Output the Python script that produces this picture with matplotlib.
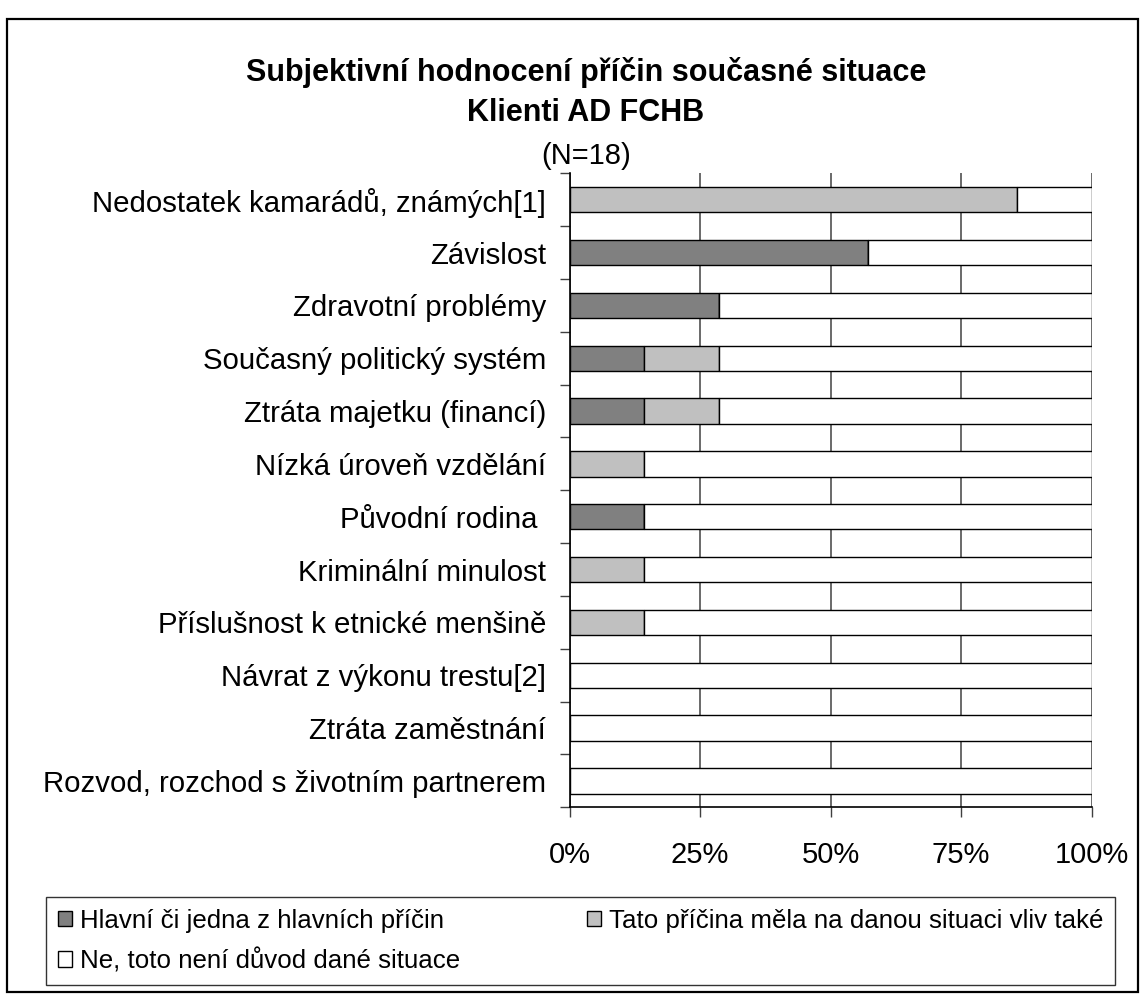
import matplotlib
matplotlib.use("Agg")
import matplotlib.pyplot as plt
import numpy as np
from matplotlib.patches import Rectangle

plt.rcParams['font.family'] = ['Liberation Sans', 'DejaVu Sans']

categories = [
    "Nedostatek kamarádů, známých[1]",
    "Závislost",
    "Zdravotní problémy",
    "Současný politický systém",
    "Ztráta majetku (financí)",
    "Nízká úroveň vzdělání",
    "Původní rodina ",
    "Kriminální minulost",
    "Příslušnost k etnické menšině",
    "Návrat z výkonu trestu[2]",
    "Ztráta zaměstnání",
    "Rozvod, rozchod s životním partnerem",
]
main_cause = [0, 57.1, 28.6, 14.3, 14.3, 0, 14.3, 0, 0, 0, 0, 0]
also_influence = [85.7, 0, 0, 14.3, 14.3, 14.3, 0, 14.3, 14.3, 0, 0, 0]
not_reason = [100 - a - b for a, b in zip(main_cause, also_influence)]

series_names = [
    "Hlavní či jedna z hlavních příčin",
    "Tato příčina měla na danou situaci vliv také",
    "Ne, toto není důvod dané situace",
]
x_ticks = [0, 25, 50, 75, 100]
x_ticklabels = ["0%", "25%", "50%", "75%", "100%"]
title_lines = ["Subjektivní hodnocení příčin současné situace", "Klienti AD FCHB"]
subtitle = "(N=18)"

W, H = 1146, 999
fig = plt.figure(figsize=(W / 100, H / 100), dpi=100)

# outer frame
fig.patches.append(Rectangle((7 / W, 7 / H), 1131 / W, 973 / H, transform=fig.transFigure,
                             fill=False, edgecolor='black', linewidth=1.6))

ax = fig.add_axes([569.5 / W, 1 - 807.3 / H, 522 / W, 634 / H])

y = np.arange(len(categories))
colors = ['#808080', '#C0C0C0', '#FFFFFF']
left = np.zeros(len(categories))
handles = []
for vals, col, name in zip([main_cause, also_influence, not_reason], colors, series_names):
    vals = np.array(vals, dtype=float)
    b = ax.barh(y, vals, left=left, height=0.48, color=col, edgecolor='black',
                linewidth=1.0, label=name, zorder=3)
    handles.append(b)
    left += vals

ax.set_xlim(0, 100)
ax.set_ylim(len(categories) - 0.5, -0.5)
ax.set_xticks(x_ticks)
ax.set_xticklabels(x_ticklabels, fontsize=21)
ax.set_yticks(y)
ax.set_yticklabels(categories, fontsize=21.2)
ax.tick_params(axis='y', which='major', length=0, pad=17)
ax.set_yticks(np.arange(len(categories) + 1) - 0.5, minor=True)
ax.tick_params(axis='y', which='minor', length=7.5, width=1, direction='out', color='#404040')
ax.tick_params(axis='x', which='major', length=7.5, width=1, direction='out', pad=17, color='#404040')
ax.xaxis.grid(True, color='#505050', linewidth=1.2, zorder=0)
ax.set_axisbelow(True)
for s in ['top', 'right']:
    ax.spines[s].set_visible(False)
for s in ['left', 'bottom']:
    ax.spines[s].set_color('black')
    ax.spines[s].set_linewidth(1.2)

# titles
fig.text(586 / W, 1 - 72 / H, title_lines[0], ha='center', va='center', fontsize=22, fontweight='bold')
fig.text(586 / W, 1 - 113 / H, title_lines[1], ha='center', va='center', fontsize=22, fontweight='bold')
fig.text(586 / W, 1 - 156 / H, subtitle, ha='center', va='center', fontsize=21)

# legend: column-wise fill -> order so row 1: main, also; row 2: not
order = [0, 2, 1]
leg = fig.legend([handles[i] for i in order], [series_names[i] for i in order],
                 loc='upper left', bbox_to_anchor=(46 / W, 1 - 897 / H), ncol=2,
                 fontsize=18.6, frameon=True, fancybox=False, shadow=False,
                 handlelength=0.54, handleheight=0.54, handletextpad=0.31,
                 columnspacing=4.92, labelspacing=0.6, borderpad=0.45, borderaxespad=0)
leg.get_frame().set_edgecolor('black')
leg.get_frame().set_linewidth(1.0)

fig.savefig("out.png", dpi=100)
